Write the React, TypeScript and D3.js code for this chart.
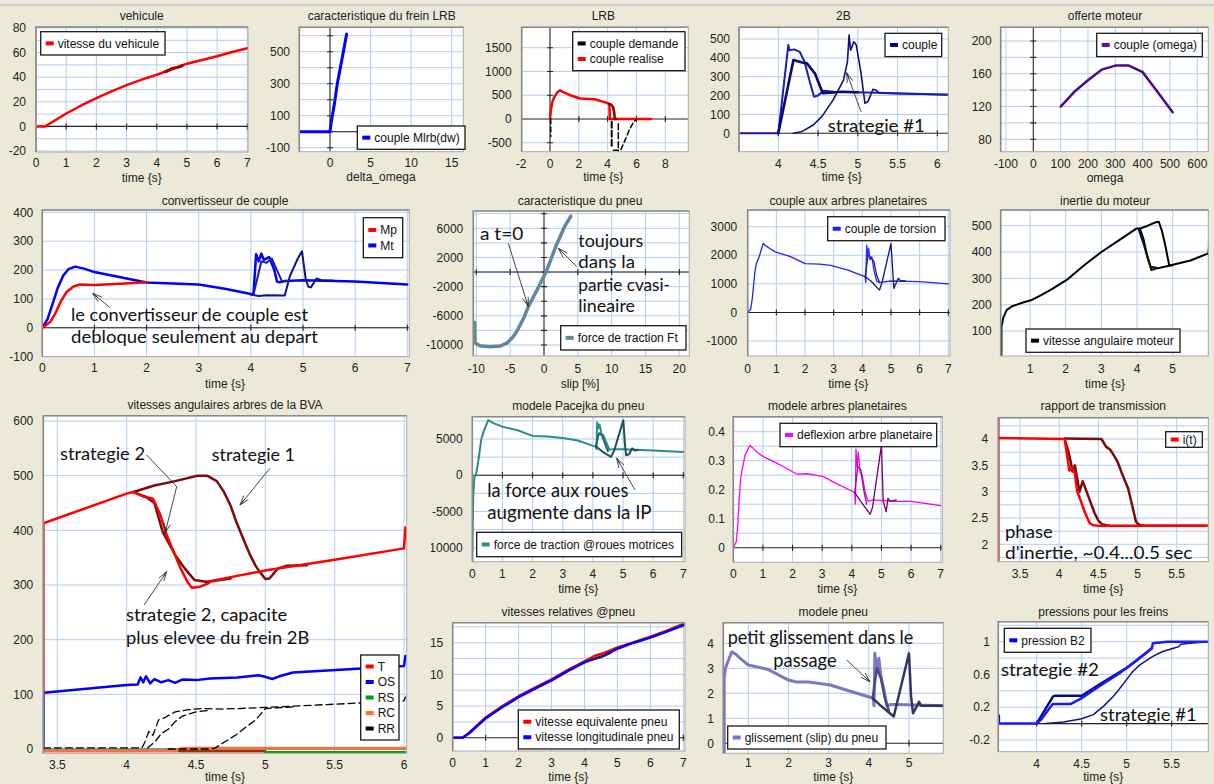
import React from "react";
import * as d3 from "d3";

type Pt = [number, number];

// ---------------- data ----------------
const vehSpeed: Pt[] = [[0,0],[0.3,0],[0.5,3],[1,10.5],[1.5,17],[2,23],[2.5,28.5],[3,33.5],[3.5,38],[4,42],[4.5,46.5],[5,51],[5.5,54],[6,57],[6.5,60.5],[7,63.5]];
const vehSpeedShift: Pt[] = [[4.3,44.5],[4.5,47],[4.7,48],[4.85,49.5]];

const lrbChar: Pt[] = [[-3.8,0],[0,0],[0.15,60],[0.5,160],[0.9,300],[1.5,460],[2.05,610]];

const lrbRealise: Pt[] = [[0,0],[0.05,150],[0.15,350],[0.3,460],[0.5,560],[0.7,605],[0.9,570],[1.4,500],[2.1,430],[3.1,415],[3.6,370],[4.03,330],[4.12,300],[4.15,0],[7,0]];
const lrbRealise2: Pt[] = [[4.1,320],[4.25,300],[4.38,250],[4.45,150],[4.5,0],[4.6,0]];
const lrbDem1: Pt[] = [[0.05,0],[0.05,-370]];
const lrbDem2: Pt[] = [[4.28,-60],[4.28,-580]];
const lrbDem3: Pt[] = [[4.74,-100],[4.74,-680]];
const lrbDem4: Pt[] = [[4.4,-660],[4.9,-660],[5.2,-450],[5.5,-230],[5.8,-60],[6.0,-10]];

const b2S2a: Pt[] = [[3.4,0],[4.0,0],[4.126,468],[4.14,440],[4.2,445],[4.27,432],[4.33,380],[4.39,282],[4.45,194],[4.5,200],[4.57,225],[4.7,220],[5.5,212],[6.14,205]];
const b2S2b: Pt[] = [[4.0,0],[4.19,388],[4.3,375],[4.36,371],[4.46,318],[4.56,212],[4.65,215],[4.8,220],[5.0,218]];
const b2S1: Pt[] = [[4.19,0],[4.3,10],[4.44,44],[4.55,90],[4.69,177],[4.82,282],[4.87,380],[4.89,521],[4.91,440],[4.95,486],[4.98,470],[5.04,320],[5.09,159],[5.13,170],[5.19,233],[5.23,228],[5.28,212],[5.5,210],[6.14,205]];

const engineTorque: Pt[] = [[100,120],[150,138],[200,152],[250,165],[300,170],[350,170],[400,162],[450,140],[510,113]];

const convMp: Pt[] = [[0,0],[0.15,20],[0.25,50],[0.35,90],[0.47,125],[0.6,143],[0.72,150],[1,148],[1.5,153],[2,158]];
const convMt: Pt[] = [[0,0],[0.1,30],[0.2,85],[0.3,140],[0.4,180],[0.5,203],[0.63,212],[0.8,205],[1,193],[1.5,175],[2,157],[3,150],[3.5,135],[4,117],[4.05,115]];
const convMtB: Pt[] = [[4.05,115],[4.1,255],[4.15,230],[4.2,257],[4.25,235],[4.35,245],[4.45,200],[4.5,160],[4.55,158],[4.65,162],[5,165],[6,160],[7,150]];
const convMtC: Pt[] = [[4.0,115],[4.15,110],[4.3,113],[4.65,112],[4.75,180],[4.9,240],[4.98,265],[5.05,170],[5.1,142],[5.15,140],[5.26,171],[5.35,165],[5.6,163]];
const convMtD: Pt[] = [[4.05,115],[4.2,230],[4.3,225],[4.4,240],[4.5,200],[4.6,160],[4.7,162]];

const pneuChar: Pt[] = [[-10.25,-6900],[-10.2,-9700],[-9.5,-10100],[-8,-10250],[-6.5,-10150],[-5.5,-9750],[-4.5,-8800],[-4,-8100],[-3,-6300],[-2.3,-4700],[-1,-2400],[0.3,0],[1.85,3750],[3,6150],[3.95,7650]];

const torsMain: Pt[] = [[0,0],[0.05,50],[0.1,100],[0.15,400],[0.2,900],[0.25,1400],[0.3,1700],[0.4,1950],[0.54,2410],[0.65,2320],[0.8,2220],[0.97,2120],[1.5,1950],[2,1710],[2.5,1690],[2.9,1650],[3.5,1480],[3.98,1300],[4.1,1250]];
const torsB: Pt[] = [[4.1,1250],[4.12,1050],[4.15,2350],[4.18,2000],[4.22,2250],[4.27,1850],[4.33,1950],[4.4,1500],[4.5,1100],[4.6,1050],[5,1100],[6,1080],[7,1000]];
const torsC: Pt[] = [[4.1,1250],[4.2,2000],[4.3,1900],[4.4,1800],[4.5,1300],[4.6,1050]];
const torsD: Pt[] = [[4.1,1250],[4.3,1100],[4.6,780],[4.7,1100],[5.0,2410],[5.1,840],[5.17,1000],[5.25,1200],[5.35,1100],[5.5,1100]];

const inertMain: Pt[] = [[0.2,-50],[0.2,115],[0.25,150],[0.35,180],[0.5,194],[0.63,200],[0.8,208],[1.05,218],[1.3,235],[1.6,258],[2.03,294],[2.5,348],[3,400],[3.5,445],[3.98,489],[4.08,489]];
const inertA: Pt[] = [[4.08,489],[4.18,450],[4.28,390],[4.4,332],[4.5,336],[4.8,345],[5,350]];
const inertB: Pt[] = [[4.05,485],[4.2,425],[4.3,375],[4.38,344],[4.55,340]];
const inertC: Pt[] = [[4.08,489],[4.3,500],[4.5,512],[4.61,515],[4.7,480],[4.8,420],[4.9,351],[5.0,352],[5.5,368],[6.0,395],[6.02,427]];

const bvaT: Pt[] = [[3.4,100],[3.4,413],[4.01,468],[4.05,470],[4.12,462],[4.19,458],[4.24,430],[4.29,391],[4.34,360],[4.39,330],[4.44,305],[4.47,295],[4.53,297],[4.58,302],[4.62,308],[5.01,327],[5.5,346],[6.0,367],[6.01,405]];
const bvaT2: Pt[] = [[4.05,470],[4.14,461],[4.2,450],[4.26,397],[4.35,355],[4.42,330],[4.49,309],[4.57,306],[4.65,308],[4.75,312]];
const bvaT1: Pt[] = [[4.05,470],[4.2,482],[4.35,490],[4.51,500],[4.58,500],[4.65,490],[4.7,471],[4.75,445],[4.79,416],[4.84,385],[4.89,355],[4.93,335],[4.96,324],[5.0,311],[5.03,312],[5.09,330],[5.15,335],[5.3,336]];
const bvaOS: Pt[] = [[3.4,0],[3.4,103],[4.0,117],[4.08,118],[4.1,131],[4.12,122],[4.14,133],[4.17,120],[4.2,128],[4.25,122],[4.3,126],[4.35,121],[4.4,127],[4.5,126],[4.6,129],[4.8,131],[4.95,135],[5.0,132],[5.05,128],[5.1,133],[5.2,140],[6.0,152],[6.01,170]];
const bvaRR1: Pt[] = [[3.4,2],[4.11,2],[4.13,12],[4.16,32],[4.19,25],[4.23,53],[4.28,58],[4.35,68],[4.45,72],[4.54,74],[4.7,73],[5,76],[5.5,82],[6,88],[6.01,95]];
const bvaRR2: Pt[] = [[4.15,2],[4.2,12],[4.25,28],[4.3,36],[4.35,50],[4.4,60],[4.5,68],[4.6,71]];
const bvaRR3: Pt[] = [[4.3,0],[4.6,0],[4.64,2],[4.7,12],[4.79,26],[4.86,40],[4.93,53],[5.0,74],[5.2,77]];
const bvaRC: Pt[] = [[3.4,-4],[4.36,-4],[4.4,2],[6.01,2]];
const bvaRC2: Pt[] = [[4.38,-4],[5.0,-4]];
const bvaRS: Pt[] = [[5.0,-6],[6.01,-6]];

const pacMain: Pt[] = [[0,-12000],[0.03,-3000],[0.07,-200],[0.12,0],[0.2,2000],[0.3,5000],[0.4,6300],[0.53,7600],[0.7,7200],[1.02,6670],[1.5,6200],[2,5430],[2.5,5350],[3,5150],[3.5,4800],[4,4050],[4.1,3950]];
const pacB: Pt[] = [[4.1,3950],[4.12,3600],[4.14,7300],[4.18,6500],[4.22,7000],[4.28,5800],[4.35,5500],[4.45,4500],[4.55,3500],[4.65,3600],[5,3600],[6,3400],[7,3220]];
const pacC: Pt[] = [[4.1,4000],[4.2,5800],[4.3,5500],[4.4,4400],[4.5,3300]];
const pacD: Pt[] = [[4.1,4000],[4.3,3300],[4.6,2530],[4.7,3300],[5.01,7600],[5.06,4500],[5.1,2760],[5.2,2900],[5.3,3700],[5.4,3400],[5.5,3500]];

const defMain: Pt[] = [[0,0],[0.05,0.01],[0.1,0.02],[0.15,0.08],[0.2,0.17],[0.25,0.24],[0.3,0.27],[0.4,0.32],[0.56,0.352],[0.65,0.345],[0.8,0.33],[1.01,0.314],[1.5,0.29],[2,0.262],[2.14,0.254],[2.5,0.255],[3.04,0.245],[3.5,0.22],[4.05,0.193],[4.1,0.187]];
const defB: Pt[] = [[4.1,0.187],[4.12,0.15],[4.14,0.34],[4.18,0.28],[4.22,0.33],[4.28,0.26],[4.35,0.25],[4.45,0.19],[4.55,0.16],[4.7,0.165],[5.5,0.16],[6,0.16],[7,0.145]];
const defC: Pt[] = [[4.1,0.187],[4.2,0.28],[4.3,0.27],[4.4,0.2],[4.5,0.15]];
const defD: Pt[] = [[4.1,0.19],[4.3,0.16],[4.62,0.115],[4.7,0.14],[5.0,0.354],[5.06,0.16],[5.16,0.124],[5.22,0.17],[5.3,0.16],[5.5,0.165]];

const ratioEdge: Pt[] = [[3.22,1.5],[3.22,4.5]];
const ratioRed: Pt[] = [[3.22,4.02],[4.07,4.0],[4.1,3.7],[4.13,3.4],[4.17,3.45],[4.2,3.35],[4.23,3.0],[4.27,2.85],[4.33,2.6],[4.39,2.4],[4.44,2.36],[4.5,2.35],[5.9,2.35]];
const ratioDark2: Pt[] = [[4.07,4.0],[4.12,3.75],[4.15,3.55],[4.17,3.38],[4.2,3.5],[4.26,3.0],[4.3,3.2],[4.35,3.0],[4.4,2.8],[4.45,2.6],[4.5,2.45],[4.55,2.38],[4.65,2.35]];
const ratioDark1: Pt[] = [[4.07,4.01],[4.54,4.0],[4.6,3.85],[4.65,3.8],[4.71,3.66],[4.75,3.55],[4.8,3.35],[4.88,3.06],[4.93,2.75],[4.98,2.43],[5.02,2.37],[5.1,2.35],[5.9,2.35]];

const velEq: Pt[] = [[0,0],[0.3,0],[0.5,0.8],[1,3.2],[1.5,4.95],[2,6.55],[2.5,7.9],[3,9.2],[3.5,10.7],[4,12.05],[4.3,12.9],[4.6,13.4],[5,14.25],[5.5,15.1],[6,15.95],[6.5,16.9],[7,17.95]];
const velLong: Pt[] = [[0,0],[0.3,0],[0.5,0.7],[1,3.05],[1.5,4.8],[2,6.4],[2.5,7.75],[3,9.05],[3.5,10.55],[4,11.9],[4.3,12.45],[4.6,13.0],[5,14.05],[5.5,15.0],[6,15.8],[6.5,16.75],[7,17.75]];
const velDark: Pt[] = [[4.2,12.3],[4.5,12.7],[4.8,13.4]];

const slipMain: Pt[] = [[0.4,-0.4],[0.4,2.6],[0.43,3.0],[0.5,3.3],[0.59,3.66],[0.7,3.55],[0.8,3.4],[1,3.13],[1.5,2.95],[2,2.53],[2.2,2.45],[2.5,2.45],[3.04,2.33],[3.5,2.1],[4.11,1.8]];
const slipB: Pt[] = [[4.11,1.8],[4.13,1.5],[4.15,3.6],[4.2,2.9],[4.25,3.4],[4.3,2.7],[4.38,2.1],[4.45,1.5],[4.55,1.55],[4.7,1.55],[5.85,1.5]];
const slipC: Pt[] = [[4.1,1.85],[4.2,3.0],[4.3,2.6],[4.4,1.8],[4.5,1.3]];
const slipD: Pt[] = [[4.1,1.8],[4.3,1.5],[4.62,1.07],[4.7,1.6],[5.0,3.6],[5.05,1.9],[5.1,1.2],[5.25,1.66],[5.3,1.5],[5.85,1.5]];

const presEdge: Pt[] = [[3.58,0.1],[3.58,0]];
const presB: Pt[] = [[3.58,0],[4.0,0],[4.05,0.05],[4.15,0.2],[4.18,0.24],[4.38,0.24],[4.5,0.31],[4.7,0.46],[4.9,0.6],[5.1,0.76],[5.28,0.92],[5.29,0.98],[5.45,1.0],[5.91,1.0]];
const presNavy: Pt[] = [[4.0,0],[4.18,0.33],[4.2,0.34],[4.5,0.34],[4.7,0.48],[5.0,0.68],[5.28,0.92]];
const presS1: Pt[] = [[4.1,0],[4.3,0.02],[4.5,0.06],[4.63,0.11],[4.75,0.22],[4.85,0.33],[4.91,0.41],[5.0,0.54],[5.07,0.64],[5.15,0.72],[5.29,0.82],[5.4,0.88],[5.52,0.92],[5.58,0.94],[5.6,0.97],[5.7,0.98],[5.91,1.0]];

// tick labels
const t0to7 = [0,1,2,3,4,5,6,7];
const t1to5 = [1,2,3,4,5];
const vehYT = [-20,0,20,40,60,80];
const lrbCharXT = [0,5,10,15];
const lrbCharYT = [-100,100,300,500];
const lrbXT = [-2,0,2,4,6,8];
const lrbYT = [-500,0,500,1000,1500];
const b2XT = [4,4.5,5,5.5,6];
const b2YT = [0,100,200,300,400,500];
const engXT = [-100,0,100,200,300,400,500,600];
const engYT = [80,120,160,200];
const convYT = [-100,0,100,200,300,400];
const pneuXT = [-10,-5,0,5,10,15,20];
const pneuYT = [-10000,-6000,-2000,2000,6000];
const torsYT = [-1000,0,1000,2000,3000];
const inertYT = [100,200,300,400,500];
const bvaXT = [3.5,4,4.5,5,5.5,6];
const bvaYT = [0,100,200,300,400,500,600];
const pacYT = [-10000,-5000,0,5000];
const defYT = [0,0.1,0.2,0.3,0.4];
const ratioXT = [3.5,4,4.5,5,5.5];
const ratioYT = [2,2.5,3,3.5,4];
const velYT = [0,5,10,15];
const slipYT = [0,1,2,3,4];
const presXT = [4,4.5,5,5.5];
const presYT = [-0.2,0.2,0.6,1];

// ---------------- layout / rendering ----------------
const FONT = "'Liberation Sans', Arial, sans-serif";
const AFONT = "Lato, 'Liberation Sans', Arial, sans-serif";
const GRID = "#B2CDEE";

interface S { d: Pt[]; c: string; w: number; dash?: string }
interface Ann { t: string; x: number; cy: number; w: number; fs: number }
interface Leg { x: number; y: number; w: number; h: number; items: [string, string][] }
interface Panel {
  title: string; tx: number; ty: number;
  fr: [number, number, number, number];
  xd: [number, number]; xr: [number, number];
  yd: [number, number]; yr: [number, number];
  xt: number[]; yt: number[]; xg: number[]; yg: number[];
  xAxis?: boolean; yAxis?: boolean; xm?: number[]; ym?: number[];
  xly: number; ylx: number; xlab: string; xlx: number; xlabY: number;
  series: S[]; legend: Leg; anns?: Ann[]; arrows?: number[][];
  labelClip?: [number, number, number, number];
}

const rng = (a: number, b: number, s: number) => d3.range(a, b + s / 2, s);

const panels: Panel[] = [
  {
    title: "vehicule", tx: 141.7, ty: 16, fr: [36, 27, 248, 152],
    xd: [0, 7], xr: [36, 247.3], yd: [-20, 80], yr: [151, 28],
    xt: t0to7, yt: vehYT, xg: rng(1, 7, 1), yg: rng(-20, 80, 10),
    xAxis: true, xm: rng(1, 7, 1), xly: 162.3, ylx: 26, xlab: "time {s}", xlx: 141.7, xlabY: 177.7,
    series: [{ d: vehSpeed, c: "#FF0000", w: 2.5 }, { d: vehSpeedShift, c: "#A00000", w: 3 }],
    legend: { x: 40.7, y: 31.7, w: 124.3, h: 23.3, items: [["vitesse du vehicule", "#FF0000"]] },
  },
  {
    title: "caracteristique du frein LRB", tx: 381.7, ty: 16, fr: [299.3, 27.3, 463.3, 151.7],
    xd: [0, 15], xr: [330, 451.7], yd: [-100, 500], yr: [147.7, 51.7],
    xt: lrbCharXT, yt: lrbCharYT, xg: [5, 10, 15], yg: rng(-100, 600, 100),
    xAxis: true, yAxis: true, xm: [], ym: rng(-100, 600, 100), xly: 162.3, ylx: 290, xlab: "delta_omega", xlx: 381, xlabY: 176.7,
    series: [{ d: lrbChar, c: "#0000FF", w: 3 }],
    legend: { x: 357.3, y: 126, w: 107.7, h: 23.3, items: [["couple Mlrb(dw)", "#0000FF"]] },
  },
  {
    title: "LRB", tx: 603.3, ty: 16, fr: [521.7, 27.3, 688.3, 151.7],
    xd: [0, 8], xr: [550, 665.3], yd: [0, 1500], yr: [119, 47.7],
    xt: lrbXT, yt: lrbYT, xg: [2, 4, 6, 8], yg: [-500, 500, 1000, 1500],
    xAxis: true, yAxis: true, xm: [-2, 2, 4, 6, 8], ym: [-500, 500, 1000, 1500], xly: 163.3, ylx: 511.7, xlab: "time {s}", xlx: 603.3, xlabY: 176.7,
    series: [
      { d: lrbRealise, c: "#FF0000", w: 2.5 }, { d: lrbRealise2, c: "#900000", w: 2.5 },
      { d: lrbDem1, c: "#000", w: 1.5, dash: "5,3" }, { d: lrbDem2, c: "#000", w: 2, dash: "6,3" },
      { d: lrbDem3, c: "#000", w: 1.5, dash: "6,3" }, { d: lrbDem4, c: "#000", w: 1.5, dash: "5,3" },
    ],
    legend: { x: 572.7, y: 31.7, w: 112.3, h: 39, items: [["couple demande", "#000000"], ["couple realise", "#FF0000"]] },
  },
  {
    title: "2B", tx: 843.3, ty: 16, fr: [739, 27.3, 948.3, 151.7],
    xd: [4, 6], xr: [778.3, 937.3], yd: [0, 500], yr: [133.3, 39],
    xt: b2XT, yt: b2YT, xg: b2XT, yg: rng(100, 500, 100),
    xAxis: true, xm: b2XT, xly: 163.3, ylx: 730, xlab: "time {s}", xlx: 841.7, xlabY: 176.7,
    series: [
      { d: b2S1, c: "#10107A", w: 1.6 }, { d: b2S2a, c: "#1C1CB4", w: 2 }, { d: b2S2b, c: "#0A0A70", w: 2.6 },
    ],
    legend: { x: 885, y: 33.3, w: 56.7, h: 23.3, items: [["couple", "#00008B"]] },
    anns: [{ t: "strategie #1", x: 827.7, cy: 126, w: 97, fs: 18 }],
    arrows: [[861, 111.7, 846.7, 72.7]],
  },
  {
    title: "offerte moteur", tx: 1105, ty: 16, fr: [1000.7, 27.3, 1208.3, 151.7],
    xd: [0, 600], xr: [1033.3, 1197.3], yd: [80, 200], yr: [139.3, 41],
    xt: engXT, yt: engYT, xg: [-100, 100, 200, 300, 400, 500, 600], yg: rng(80, 200, 20),
    yAxis: true, ym: rng(80, 200, 20), xly: 163.3, ylx: 991.7, xlab: "omega", xlx: 1105, xlabY: 177.7,
    series: [{ d: engineTorque, c: "#4B0A8C", w: 2.5 }],
    legend: { x: 1096.7, y: 33.3, w: 105.6, h: 23.3, items: [["couple (omega)", "#5A1496"]] },
  },
  {
    title: "convertisseur de couple", tx: 225, ty: 201, fr: [42.3, 210, 409.3, 356.7],
    xd: [0, 7], xr: [42.3, 407.3], yd: [-100, 400], yr: [356.7, 212.3],
    xt: t0to7, yt: convYT, xg: rng(1, 7, 1), yg: rng(-100, 400, 100),
    xAxis: true, xm: rng(1, 7, 1), xly: 367.3, ylx: 33.3, xlab: "time {s}", xlx: 225, xlabY: 384,
    series: [
      { d: convMt, c: "#0000FF", w: 2.5 }, { d: convMtB, c: "#0000FF", w: 2.5 },
      { d: convMtC, c: "#101090", w: 2 }, { d: convMtD, c: "#1818B0", w: 2 },
      { d: convMp, c: "#FF0000", w: 2.5 },
    ],
    legend: { x: 363.3, y: 217.7, w: 39.4, h: 40, items: [["Mp", "#FF0000"], ["Mt", "#0000FF"]] },
    anns: [
      { t: "le convertisseur de couple est", x: 71, cy: 315, w: 237, fs: 17 },
      { t: "debloque seulement au depart", x: 71, cy: 337.3, w: 247, fs: 17 },
    ],
    arrows: [[110, 307.7, 92.7, 293.3]],
  },
  {
    title: "caracteristique du pneu", tx: 580, ty: 201, fr: [473.3, 211, 689.3, 356],
    xd: [0, 20], xr: [544, 679.3], yd: [-10000, 6000], yr: [345, 228.3],
    xt: pneuXT, yt: pneuYT, xg: [-10, -5, 5, 10, 15, 20], yg: rng(-10000, 8000, 2000),
    xAxis: true, yAxis: true, xm: [-10, -5, 5, 10, 15, 20], ym: rng(-10000, 8000, 2000),
    xly: 368.3, ylx: 463.3, xlab: "slip [%]", xlx: 580, xlabY: 383.3,
    series: [{ d: pneuChar, c: "#62899A", w: 3.5 }],
    legend: { x: 560.7, y: 325.7, w: 125.3, h: 24.3, items: [["force de traction Ft", "#62899A"]] },
    anns: [
      { t: "a t=0", x: 480, cy: 234, w: 43.3, fs: 17 },
      { t: "toujours", x: 578.3, cy: 240.7, w: 65, fs: 17 },
      { t: "dans la", x: 578.3, cy: 261.7, w: 56.7, fs: 17 },
      { t: "partie cvasi-", x: 578.3, cy: 285, w: 91.7, fs: 17 },
      { t: "lineaire", x: 578.3, cy: 306, w: 56.7, fs: 17 },
    ],
    arrows: [[508.3, 243.3, 528.3, 306.7], [576.7, 266.7, 558.3, 248.3]],
  },
  {
    title: "couple aux arbres planetaires", tx: 848.3, ty: 201, fr: [747.7, 210, 950, 356],
    xd: [0, 7], xr: [747.7, 948.3], yd: [-1000, 3000], yr: [341, 226.7],
    xt: t0to7, yt: torsYT, xg: rng(1, 7, 1), yg: rng(-1000, 3000, 1000),
    xAxis: true, xm: rng(1, 7, 1), xly: 368.3, ylx: 737.3, xlab: "time {s}", xlx: 848.3, xlabY: 383.3,
    series: [
      { d: torsMain, c: "#2222EE", w: 1.3 }, { d: torsB, c: "#2828F0", w: 1.3 },
      { d: torsC, c: "#1A1AA0", w: 1.3 }, { d: torsD, c: "#14147A", w: 1.3 },
    ],
    legend: { x: 827.7, y: 216.7, w: 117.3, h: 24, items: [["couple de torsion", "#2020E6"]] },
  },
  {
    title: "inertie du moteur", tx: 1105, ty: 201, fr: [1000.7, 210, 1208.3, 356],
    xd: [1, 5], xr: [1030, 1172.7], yd: [100, 500], yr: [331, 225.7],
    xt: t1to5, yt: inertYT, xg: rng(1, 6, 1), yg: rng(100, 500, 100),
    xly: 368.3, ylx: 991.7, xlab: "time {s}", xlx: 1105, xlabY: 383.3,
    series: [
      { d: inertMain, c: "#000", w: 2 }, { d: inertA, c: "#000", w: 2 },
      { d: inertB, c: "#111", w: 2 }, { d: inertC, c: "#000", w: 2 },
    ],
    legend: { x: 1026, y: 329, w: 154, h: 23.3, items: [["vitesse angulaire moteur", "#000000"]] },
  },
  {
    title: "vitesses angulaires arbres de la BVA", tx: 225, ty: 404.3, fr: [43.3, 415.7, 406.7, 753.3],
    xd: [3.5, 6], xr: [57.3, 404], yd: [0, 600], yr: [749, 421],
    xt: bvaXT, yt: bvaYT, xg: bvaXT, yg: rng(100, 600, 100),
    xAxis: true, xm: [], xly: 764.3, ylx: 33.3, xlab: "time {s}", xlx: 225, xlabY: 777,
    series: [
      { d: bvaRC, c: "#FF7030", w: 2.5 }, { d: bvaRC2, c: "#A03000", w: 2.5 }, { d: bvaRS, c: "#00A000", w: 2.5 },
      { d: bvaRR1, c: "#000", w: 1.3, dash: "7,4" }, { d: bvaRR2, c: "#000", w: 1.3, dash: "7,4" }, { d: bvaRR3, c: "#000", w: 1.3, dash: "7,4" },
      { d: bvaOS, c: "#0000FF", w: 2.5 },
      { d: bvaT1, c: "#7A0C0C", w: 2.5 }, { d: bvaT2, c: "#7A0C0C", w: 2.5 },
      { d: bvaT, c: "#FF0000", w: 2.5 },
    ],
    legend: {
      x: 360.7, y: 655, w: 38.3, h: 85,
      items: [["T", "#FF0000"], ["OS", "#0000FF"], ["RS", "#00A000"], ["RC", "#FF7030"], ["RR", "#000000"]],
    },
    anns: [
      { t: "strategie 2", x: 60, cy: 453.3, w: 85, fs: 18 },
      { t: "strategie 1", x: 211.7, cy: 455, w: 83.3, fs: 18 },
      { t: "strategie 2, capacite", x: 126, cy: 615, w: 161.3, fs: 18 },
      { t: "plus elevee du frein 2B", x: 126, cy: 637.3, w: 183.3, fs: 18 },
    ],
    arrows: [[146.7, 455, 176.7, 486.7, 165, 533.3], [270, 468.3, 240, 505], [144, 605, 166.7, 571.7]],
  },
  {
    title: "modele Pacejka du pneu", tx: 578.3, ty: 405.7, fr: [472.3, 416.7, 685, 561.7],
    xd: [0, 7], xr: [472.3, 683.3], yd: [-10000, 5000], yr: [547.7, 439],
    xt: t0to7, yt: pacYT, xg: rng(1, 7, 1), yg: rng(-10000, 7500, 2500),
    xAxis: true, xm: rng(1, 7, 1), xly: 574, ylx: 462.7, xlab: "time {s}", xlx: 578.3, xlabY: 589,
    series: [
      { d: pacMain, c: "#2E8B8B", w: 2 }, { d: pacB, c: "#2E8B8B", w: 2 },
      { d: pacC, c: "#1E6A6A", w: 2 }, { d: pacD, c: "#1A5555", w: 2 },
    ],
    legend: { x: 476.7, y: 532.3, w: 205, h: 24.4, items: [["force de traction @roues motrices", "#2E8B8B"]] },
    anns: [
      { t: "la force aux roues", x: 487.3, cy: 490, w: 141, fs: 19 },
      { t: "augmente dans la IP", x: 487.3, cy: 511.7, w: 164.3, fs: 19 },
    ],
    arrows: [[635, 490, 616.7, 458.3]],
    labelClip: [431, 400, 300, 200],
  },
  {
    title: "modele arbres planetaires", tx: 837.3, ty: 405.7, fr: [733.3, 416.7, 942.3, 562.3],
    xd: [0, 7], xr: [733.3, 940.7], yd: [0, 0.4], yr: [547.7, 431.7],
    xt: t0to7, yt: defYT, xg: rng(1, 7, 1), yg: rng(0.05, 0.45, 0.05),
    xAxis: true, xm: rng(1, 7, 1), xly: 574, ylx: 725, xlab: "time {s}", xlx: 837.3, xlabY: 589,
    series: [
      { d: defMain, c: "#FF00FF", w: 1.3 }, { d: defB, c: "#F000F0", w: 1.3 },
      { d: defC, c: "#A000A0", w: 1.3 }, { d: defD, c: "#700070", w: 1.3 },
    ],
    legend: { x: 780, y: 423.3, w: 156.7, h: 23.4, items: [["deflexion arbre planetaire", "#FF00FF"]] },
  },
  {
    title: "rapport de transmission", tx: 1103.3, ty: 405.7, fr: [998.3, 417.7, 1208.3, 561.7],
    xd: [3.5, 5.5], xr: [1020, 1176.7], yd: [2, 4], yr: [544.3, 439],
    xt: ratioXT, yt: ratioYT, xg: ratioXT, yg: rng(1.75, 4.25, 0.25),
    xly: 574, ylx: 988.3, xlab: "time {s}", xlx: 1103.3, xlabY: 589,
    series: [
      { d: ratioEdge, c: "#FF0000", w: 3 },
      { d: ratioDark1, c: "#7A0C0C", w: 2.5 }, { d: ratioDark2, c: "#7A0C0C", w: 2.5 },
      { d: ratioRed, c: "#FF0000", w: 2.5 },
    ],
    legend: { x: 1165.7, y: 431.7, w: 36.6, h: 15.6, items: [["i(t)", "#FF0000"]] },
    anns: [
      { t: "phase", x: 1005, cy: 531.7, w: 47.7, fs: 17 },
      { t: "d'inertie, ~0.4...0.5 sec", x: 1005, cy: 553.3, w: 187.3, fs: 17 },
    ],
  },
  {
    title: "vitesses relatives @pneu", tx: 568.3, ty: 611.7, fr: [452.7, 622.7, 685, 751],
    xd: [0, 7], xr: [452.7, 683.3], yd: [0, 15], yr: [737.7, 642.7],
    xt: t0to7, yt: velYT, xg: rng(1, 7, 1), yg: rng(2.5, 17.5, 2.5),
    xAxis: true, xm: rng(1, 7, 1), xly: 762.7, ylx: 443.3, xlab: "time {s}", xlx: 568.3, xlabY: 777,
    series: [
      { d: velEq, c: "#FF0000", w: 2.5 }, { d: velLong, c: "#0000FF", w: 2.5 }, { d: velDark, c: "#202060", w: 2 },
    ],
    legend: { x: 518.3, y: 710, w: 161, h: 39, items: [["vitesse equivalente pneu", "#FF0000"], ["vitesse longitudinale pneu", "#0000FF"]] },
  },
  {
    title: "modele pneu", tx: 833.3, ty: 611.7, fr: [723.3, 622.7, 943.3, 753.3],
    xd: [1, 5], xr: [748.3, 909], yd: [0, 4], yr: [743.3, 643.3],
    xt: t1to5, yt: slipYT, xg: t1to5, yg: [1, 2, 3, 4],
    xAxis: true, xm: t1to5, xly: 762.7, ylx: 714, xlab: "time {s}", xlx: 833.3, xlabY: 777,
    series: [
      { d: slipMain, c: "#7878C4", w: 3 }, { d: slipB, c: "#7878C4", w: 3 },
      { d: slipC, c: "#4A4A80", w: 2.5 }, { d: slipD, c: "#35355E", w: 2.5 },
    ],
    legend: { x: 727.7, y: 726, w: 158.3, h: 23, items: [["glissement (slip) du pneu", "#7878C4"]] },
    anns: [
      { t: "petit glissement dans le", x: 727.7, cy: 636.7, w: 185.7, fs: 19 },
      { t: "passage", x: 773.3, cy: 660, w: 63.3, fs: 19 },
    ],
    arrows: [[846.7, 660, 870, 681.7]],
  },
  {
    title: "pressions pour les freins", tx: 1103.3, ty: 611.7, fr: [998.3, 621.7, 1208.3, 751.7],
    xd: [4, 5.5], xr: [1036.7, 1171.7], yd: [-0.2, 1], yr: [740, 641.7],
    xt: presXT, yt: presYT, xg: presXT, yg: rng(-0.2, 1.2, 0.2),
    xAxis: true, xm: presXT, xly: 763.3, ylx: 990, xlab: "time {s}", xlx: 1103.3, xlabY: 777,
    series: [
      { d: presS1, c: "#10108A", w: 1.5 }, { d: presNavy, c: "#0A0A90", w: 2.5 },
      { d: presEdge, c: "#0000FF", w: 2.5 }, { d: presB, c: "#1A1AFF", w: 2.5 },
    ],
    legend: { x: 1004.3, y: 628.3, w: 86.7, h: 24, items: [["pression B2", "#0000FF"]] },
    anns: [
      { t: "strategie #2", x: 1001, cy: 670, w: 98, fs: 18 },
      { t: "strategie #1", x: 1100, cy: 715, w: 96.7, fs: 18 },
    ],
  },
];

const fmt = (v: number) => {
  const r = Math.round(v * 1000) / 1000;
  return String(r);
};

function Arrow({ pts }: { pts: number[] }) {
  const n = pts.length;
  const x2 = pts[n - 2], y2 = pts[n - 1], x1 = pts[n - 4], y1 = pts[n - 3];
  const a = Math.atan2(y2 - y1, x2 - x1);
  const L = 10;
  const h1 = [x2 - L * Math.cos(a - 0.3), y2 - L * Math.sin(a - 0.3)];
  const h2 = [x2 - L * Math.cos(a + 0.3), y2 - L * Math.sin(a + 0.3)];
  const poly: string[] = [];
  for (let i = 0; i < n; i += 2) poly.push(`${pts[i]},${pts[i + 1]}`);
  return (
    <g stroke="#333" strokeWidth={0.9} fill="none">
      <polyline points={poly.join(" ")} />
      <polyline points={`${h1[0]},${h1[1]} ${x2},${y2} ${h2[0]},${h2[1]}`} />
      <line x1={x2} y1={y2} x2={(h1[0] + h2[0]) / 2 + (x2 - (h1[0] + h2[0]) / 2) * 0.3} y2={(h1[1] + h2[1]) / 2 + (y2 - (h1[1] + h2[1]) / 2) * 0.3} />
    </g>
  );
}

function PanelView({ p, id }: { p: Panel; id: number }) {
  const xs = d3.scaleLinear().domain(p.xd).range(p.xr);
  const ys = d3.scaleLinear().domain(p.yd).range(p.yr);
  const [x0, y0, x1, y1] = p.fr;
  const gen = d3.line<Pt>().x((d) => xs(d[0])).y((d) => ys(d[1]));
  const cid = `clip-${id}`;
  const lcid = `lclip-${id}`;
  const zeroY = ys(0), zeroX = xs(0);
  const n = p.legend.items.length;
  const firstRow = p.legend.y + (p.legend.h - (n - 1) * 15.5) / 2;
  return (
    <g>
      <defs>
        <clipPath id={cid}><rect x={x0} y={y0} width={x1 - x0} height={y1 - y0} /></clipPath>
        {p.labelClip && (
          <clipPath id={lcid}><rect x={p.labelClip[0]} y={p.labelClip[1]} width={p.labelClip[2]} height={p.labelClip[3]} /></clipPath>
        )}
      </defs>
      <rect x={x0} y={y0} width={x1 - x0} height={y1 - y0} fill="#FFFFFF" />
      <g clipPath={`url(#${cid})`}>
        {p.xg.map((v, i) => (
          <line key={"xg" + i} x1={xs(v)} x2={xs(v)} y1={y0} y2={y1} stroke={GRID} strokeWidth={1} />
        ))}
        {p.yg.map((v, i) => (
          <line key={"yg" + i} x1={x0} x2={x1} y1={ys(v)} y2={ys(v)} stroke={GRID} strokeWidth={1} />
        ))}
        {p.xAxis && (
          <g>
            <line x1={x0} x2={x1} y1={zeroY} y2={zeroY} stroke="#222" strokeWidth={1.1} />
            {(p.xm || []).map((v, i) => (
              <line key={"xm" + i} x1={xs(v)} x2={xs(v)} y1={zeroY - 3} y2={zeroY + 3} stroke="#222" strokeWidth={1.1} />
            ))}
          </g>
        )}
        {p.yAxis && (
          <g>
            <line x1={zeroX} x2={zeroX} y1={y0} y2={y1} stroke="#222" strokeWidth={1.1} />
            {(p.ym || []).map((v, i) => (
              <line key={"ym" + i} x1={zeroX - 3} x2={zeroX + 3} y1={ys(v)} y2={ys(v)} stroke="#222" strokeWidth={1.1} />
            ))}
          </g>
        )}
        {p.series.map((s, i) => (
          <path key={"s" + i} d={gen(s.d) || ""} fill="none" stroke={s.c} strokeWidth={s.w}
            strokeDasharray={s.dash} strokeLinejoin="round" strokeLinecap="round" />
        ))}
      </g>
      <rect x={x0} y={y0} width={x1 - x0} height={y1 - y0} fill="none" stroke="#A8A8A8" strokeWidth={1} />
      <polyline points={`${x0},${y1} ${x0},${y0} ${x1},${y0}`} fill="none" stroke="#8A8A8A" strokeWidth={1.6} />
      {/* legend */}
      <g>
        <rect x={p.legend.x} y={p.legend.y} width={p.legend.w} height={p.legend.h} fill="#FFFFFF" stroke="#1A1A1A" strokeWidth={1.3} />
        {p.legend.items.map((it, i) => (
          <g key={"l" + i}>
            <rect x={p.legend.x + 5} y={firstRow + i * 15.5 - 2} width={8} height={4} fill={it[1]} />
            <text x={p.legend.x + 17} y={firstRow + i * 15.5} dy="0.35em" fontSize={12} fontFamily={FONT} fill="#111">{it[0]}</text>
          </g>
        ))}
      </g>
      {/* tick labels */}
      <g fontFamily={FONT} fontSize={12} fill="#222" clipPath={p.labelClip ? `url(#${lcid})` : undefined}>
        {p.xt.map((v, i) => (
          <text key={"xt" + i} x={xs(v)} y={p.xly} dy="0.35em" textAnchor="middle">{fmt(v)}</text>
        ))}
        {p.yt.map((v, i) => (
          <text key={"yt" + i} x={p.ylx} y={ys(v)} dy="0.35em" textAnchor="end">{fmt(v)}</text>
        ))}
      </g>
      <text x={p.tx} y={p.ty} dy="0.35em" textAnchor="middle" fontFamily={FONT} fontSize={12} fill="#222">{p.title}</text>
      <text x={p.xlx} y={p.xlabY} dy="0.35em" textAnchor="middle" fontFamily={FONT} fontSize={12} fill="#222">{p.xlab}</text>
      {(p.anns || []).map((a, i) => (
        <text key={"a" + i} x={a.x} y={a.cy + a.fs * 0.36} fontFamily={AFONT} fontSize={a.fs} fill="#111"
          textLength={a.w} lengthAdjust="spacingAndGlyphs">{a.t}</text>
      ))}
      {(p.arrows || []).map((ar, i) => <Arrow key={"ar" + i} pts={ar} />)}
    </g>
  );
}

export default function App() {
  return (
    <svg width={1214} height={784} style={{ position: "absolute", left: 0, top: 0 }}>
      <rect x={0} y={0} width={1214} height={784} fill="#ECE9D8" />
      <line x1={0} x2={1214} y1={5} y2={5} stroke="#A9B6DC" strokeWidth={1.2} />
      {panels.map((p, i) => <PanelView key={i} p={p} id={i} />)}
    </svg>
  );
}
